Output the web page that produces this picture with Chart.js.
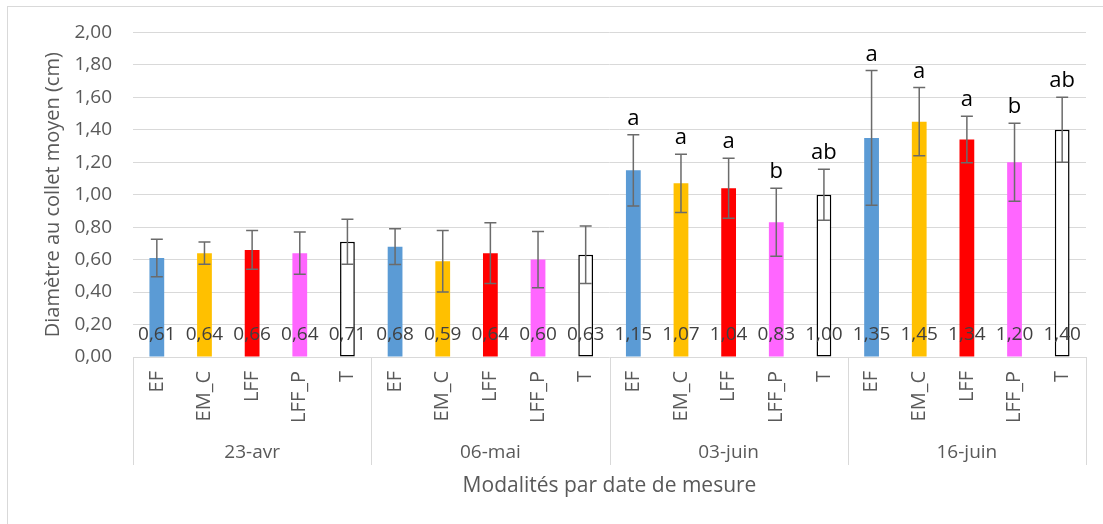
<!DOCTYPE html>
<html>
<head>
<meta charset="utf-8">
<script src="https://cdn.jsdelivr.net/npm/chart.js@4.4.0/dist/chart.umd.min.js"></script>
<style>
html,body{margin:0;padding:0;background:#fff;}
#wrap{width:1103px;height:524px;position:relative;}
</style>
</head>
<body>
<div id="wrap"><canvas id="c" width="1103" height="524"></canvas></div>
<script>
// ---- Data ----
const dates = ['23-avr', '06-mai', '03-juin', '16-juin'];
const modalities = ['EF', 'EM_C', 'LFF', 'LFF_P', 'T'];

const meanEF   = [0.61, 0.68, 1.15, 1.35];
const meanEM_C = [0.64, 0.59, 1.07, 1.45];
const meanLFF  = [0.66, 0.64, 1.04, 1.34];
const meanLFF_P= [0.64, 0.60, 0.83, 1.20];
const meanT    = [0.71, 0.63, 1.00, 1.40];

const errEF    = [0.115, 0.110, 0.220, 0.415];
const errEM_C  = [0.068, 0.190, 0.180, 0.210];
const errLFF   = [0.120, 0.187, 0.185, 0.143];
const errLFF_P = [0.130, 0.174, 0.210, 0.240];
const errT     = [0.138, 0.177, 0.157, 0.200];

const lettersEF    = ['', '', 'a', 'a'];
const lettersEM_C  = ['', '', 'a', 'a'];
const lettersLFF   = ['', '', 'a', 'a'];
const lettersLFF_P = ['', '', 'b', 'b'];
const lettersT     = ['', '', 'ab', 'ab'];

const yTicks = [0, 0.2, 0.4, 0.6, 0.8, 1.0, 1.2, 1.4, 1.6, 1.8, 2.0];

const yTitle = 'Diamètre au collet moyen (cm)';
const xTitle = 'Modalités par date de mesure';

// ---- Build ----
const FONT = "'Open Sans', 'Noto Sans', sans-serif";
const GREY = '#595959';
const seriesDef = [
  {mean: meanEF,    err: errEF,    let: lettersEF,    fill: '#5B9BD5', border: '#5B9BD5', bw: 0},
  {mean: meanEM_C,  err: errEM_C,  let: lettersEM_C,  fill: '#FFC000', border: '#FFC000', bw: 0},
  {mean: meanLFF,   err: errLFF,   let: lettersLFF,   fill: '#FF0000', border: '#FF0000', bw: 0},
  {mean: meanLFF_P, err: errLFF_P, let: lettersLFF_P, fill: '#FF66FF', border: '#FF66FF', bw: 0},
  {mean: meanT,     err: errT,     let: lettersT,     fill: '#FFFFFF', border: '#000000', bw: 1.5}
];

const labels = [], values = [], errors = [], letters = [], fills = [], borders = [], bws = [];
dates.forEach((d, di) => {
  modalities.forEach((m, mi) => {
    const s = seriesDef[mi];
    labels.push(m);
    values.push(s.mean[di]);
    errors.push(s.err[di]);
    letters.push(s.let[di]);
    fills.push(s.fill);
    borders.push(s.border);
    bws.push(s.bw);
  });
});

const fmt = v => (Math.round(v * 100) / 100).toFixed(2).replace('.', ',');

const overlay = {
  id: 'overlay',
  beforeDraw(chart) {
    const c = chart.ctx;
    c.save();
    c.fillStyle = '#fff';
    c.fillRect(0, 0, chart.width, chart.height);
    c.strokeStyle = '#d9d9d9';
    c.lineWidth = 1;
    c.strokeRect(7.5, 6.5, chart.width + 20, chart.height + 20);
    c.restore();
  },
  afterDatasetsDraw(chart) {
    const c = chart.ctx;
    const x = chart.scales.x, y = chart.scales.y;
    const meta = chart.getDatasetMeta(0);
    const area = chart.chartArea;
    c.save();
    // error bars
    c.strokeStyle = '#6b6b6b';
    c.lineWidth = 1.5;
    meta.data.forEach((bar, i) => {
      const px = bar.x;
      const yt = y.getPixelForValue(values[i] + errors[i]);
      const yb = y.getPixelForValue(values[i] - errors[i]);
      c.beginPath();
      c.moveTo(px, yt); c.lineTo(px, yb);
      c.moveTo(px - 6, yt); c.lineTo(px + 6, yt);
      c.moveTo(px - 6, yb); c.lineTo(px + 6, yb);
      c.stroke();
    });
    // value labels
    c.fillStyle = '#404040';
    c.font = '19px ' + FONT;
    c.textAlign = 'center';
    c.textBaseline = 'middle';
    const y0 = y.getPixelForValue(0);
    meta.data.forEach((bar, i) => {
      c.fillText(fmt(values[i]), bar.x, y0 - 22);
    });
    // letters
    c.fillStyle = '#000';
    c.font = '22px ' + FONT;
    c.textBaseline = 'alphabetic';
    meta.data.forEach((bar, i) => {
      if (!letters[i]) return;
      const yt = y.getPixelForValue(values[i] + errors[i]);
      c.fillText(letters[i], bar.x, yt - 10);
    });
    // group separators & labels
    const n = labels.length;
    const slot = (x.right - x.left) / n;
    c.strokeStyle = '#d9d9d9';
    c.lineWidth = 1;
    for (let g = 0; g <= dates.length; g++) {
      const bx = Math.round(x.left + g * modalities.length * slot) + 0.5;
      c.beginPath();
      c.moveTo(bx, area.bottom);
      c.lineTo(bx, 465);
      c.stroke();
    }
    c.fillStyle = GREY;
    c.font = '19px ' + FONT;
    c.textBaseline = 'middle';
    dates.forEach((d, g) => {
      const cx = x.left + (g + 0.5) * modalities.length * slot;
      c.fillText(d, cx, 453);
    });
    c.restore();
  }
};

new Chart(document.getElementById('c'), {
  type: 'bar',
  data: {
    labels: labels,
    datasets: [{
      data: values,
      backgroundColor: fills,
      borderColor: borders,
      borderWidth: bws,
      borderSkipped: false,
      barPercentage: 0.31,
      categoryPercentage: 1
    }]
  },
  options: {
    responsive: false,
    animation: false,
    devicePixelRatio: 1,
    layout: {padding: {top: 32, right: 17, left: 0, bottom: 0}},
    plugins: {legend: {display: false}, tooltip: {enabled: false}},
    scales: {
      x: {
        grid: {display: false, drawTicks: false},
        border: {display: false},
        ticks: {
          minRotation: 90, maxRotation: 90, autoSkip: false, padding: 14,
          color: GREY, font: {family: FONT, size: 20}
        },
        title: {
          display: true, text: xTitle, color: GREY,
          font: {family: FONT, size: 21}, padding: {top: 0, bottom: 25}
        },
        afterFit(s) { s.height = 167; }
      },
      y: {
        min: 0, max: 2,
        afterBuildTicks(s) { s.ticks = yTicks.map(v => ({value: v})); },
        ticks: {
          callback: v => fmt(v), padding: 21,
          color: GREY, font: {family: FONT, size: 19}
        },
        grid: {color: '#d9d9d9', drawTicks: false, lineWidth: 1},
        border: {display: false},
        title: {
          display: true, text: yTitle, color: GREY,
          font: {family: FONT, size: 20}, padding: {top: 41, bottom: 0}
        },
        afterFit(s) { s.width = 133; }
      }
    }
  },
  plugins: [overlay]
});
</script>
</body>
</html>
